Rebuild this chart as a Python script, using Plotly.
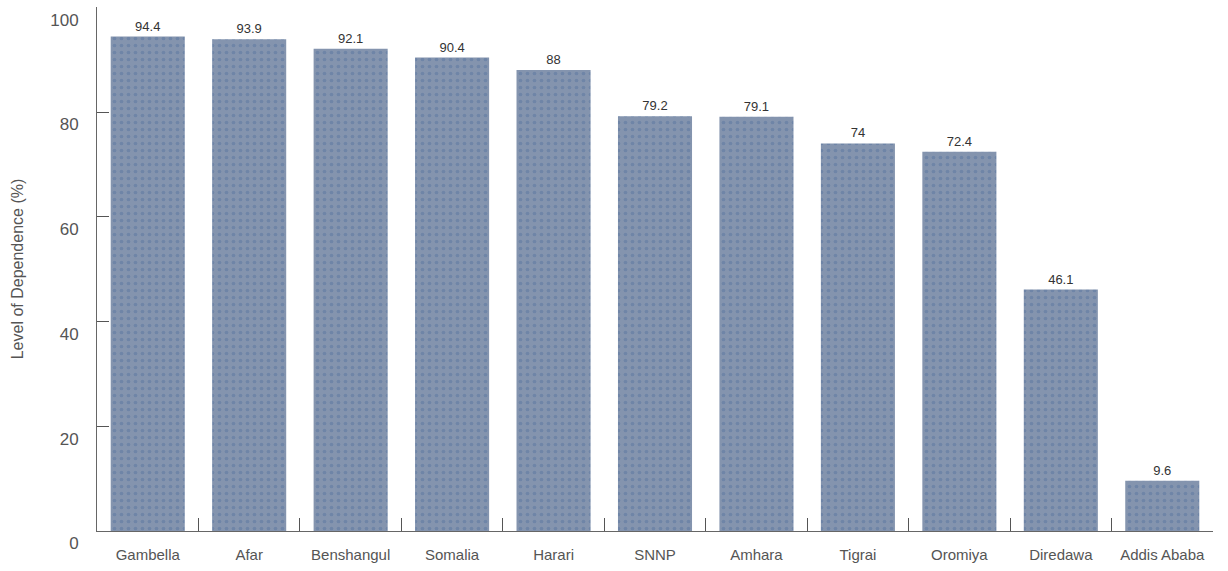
import plotly.graph_objects as go

# Regional level of dependence (%)
regions = ["Gambella", "Afar", "Benshangul", "Somalia", "Harari", "SNNP",
           "Amhara", "Tigrai", "Oromiya", "Diredawa", "Addis Ababa"]
dependence = [94.4, 93.9, 92.1, 90.4, 88, 79.2, 79.1, 74, 72.4, 46.1, 9.6]
y_ticks = [0, 20, 40, 60, 80, 100]

fig = go.Figure(
    go.Bar(
        x=regions,
        y=dependence,
        text=[f"{v:g}" for v in dependence],
        textposition="outside",
        textfont=dict(family="Liberation Sans, Arial, sans-serif", size=13, color="#333333"),
        cliponaxis=False,
        marker=dict(
            color="#8292ad",
            line=dict(width=0),
            pattern=dict(shape=".", bgcolor="#8494ae", fgcolor="#5a76a0",
                         size=7, solidity=0.22, fillmode="overlay"),
        ),
        width=0.73,
    )
)

fig.update_layout(
    width=1228,
    height=571,
    margin=dict(l=97, r=15, t=7, b=40),
    paper_bgcolor="white",
    plot_bgcolor="white",
    showlegend=False,
    font=dict(family="Liberation Sans, Arial, sans-serif", color="#555555"),
)

fig.update_xaxes(
    type="category",
    tickson="boundaries",
    ticks="inside",
    ticklen=13,
    tickcolor="#555555",
    showline=True,
    linecolor="#666666",
    linewidth=1,
    showgrid=False,
    tickfont=dict(size=15, color="#555555"),
    ticklabelstandoff=10,
    automargin=False,
)

fig.update_yaxes(
    range=[0, 100.05],
    tickvals=y_ticks,
    ticks="inside",
    ticklen=12,
    tickcolor="#555555",
    showline=True,
    linecolor="#666666",
    linewidth=1,
    showgrid=False,
    zeroline=False,
    tickfont=dict(size=17, color="#555555"),
    ticklabelposition="outside bottom",
    ticklabelstandoff=14,
    ticklabeloverflow="allow",
    automargin=False,
    title=dict(text="Level of Dependence (%)", font=dict(size=16, color="#555555"), standoff=22),
)

fig.write_html("out.html")
